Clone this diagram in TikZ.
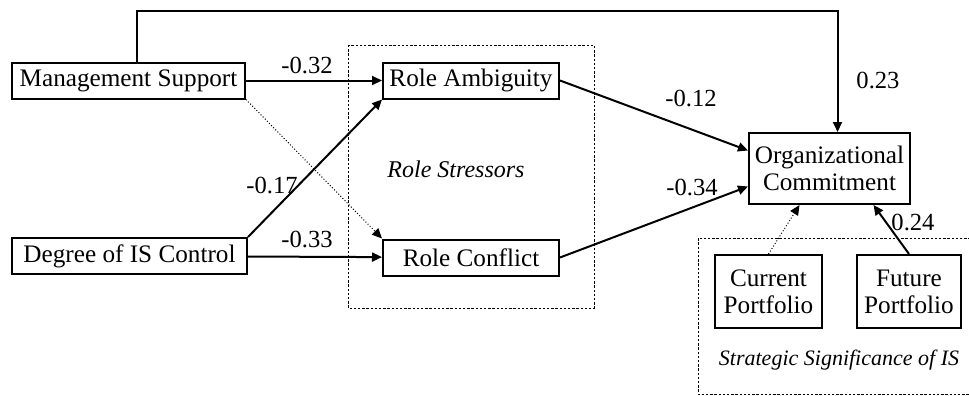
\documentclass[tikz,border=0pt]{standalone}
\usepackage{fontspec}
\setmainfont{Liberation Serif}
\usetikzlibrary{positioning,arrows.meta}

\begin{document}
\begin{tikzpicture}[x=0.5pt,y=-0.5pt,
	var/.style={draw, line width=1pt, inner sep=2pt, minimum height=18pt,
		align=center, font=\fontsize{12.6}{13.5}\selectfont},
	group/.style={draw, line width=0.5pt, dash pattern=on 1.2pt off 0.9pt},
	grouplabel/.style={font=\fontsize{11}{13}\selectfont\itshape},
	coef/.style={font=\fontsize{12.3}{13.5}\selectfont, inner sep=1pt},
	path/.style={-{Triangle[length=5pt,width=4.5pt]}, line width=1pt},
	weak/.style={-{Triangle[length=5pt,width=4.5pt]}, line width=0.5pt, densely dotted}
	]
	\useasboundingbox (0,0) rectangle (969,396);
	% groups
	\draw[group] (348,45) rectangle (594,308);
	\node[grouplabel, font=\fontsize{12}{13}\selectfont\itshape] (rslab) at (456,169) {Role Stressors};
	\draw[group] (975,238) -| (698,394) -- (975,394);
	\node[grouplabel] (sslab) at (839,360) {Strategic Significance of IS};
	% variables
	\node[var, minimum width=116.5pt] (ms) at (128.5,80.5) {Management Support};
	\node[var, minimum width=117.5pt] (dic) at (129.5,256) {Degree of IS Control};
	\node[var, minimum width=88pt] (ra) at (471,80.5) {Role Ambiguity};
	\node[var, minimum width=88pt, below=69.5pt of ra] (rc) {Role Conflict};
	\node[var, minimum width=80.5pt, minimum height=35.5pt] (oc) at (829.5,168.5) {Organizational\\Commitment};
	\node[var, minimum width=53.5pt, minimum height=36.5pt] (cp) at (768.5,291.5) {Current\\Portfolio};
	\node[var, minimum width=52pt, minimum height=36.5pt, right=16.5pt of cp] (fp) {Future\\Portfolio};
	% paths
	\coordinate (turn) at (837.5,11);
	\draw[path] ([xshift=4pt]ms.north) |- (turn) -- ([xshift=4pt]oc.north);
	\draw[path] (ms) -- (ra);
	\draw[weak] (ms.south east) -- (rc.north west);
	\draw[path] (dic.north east) -- (ra.south west);
	\draw[path] (dic) -- (rc);
	\draw[path] (ra.east) -- ([yshift=9pt]oc.west);
	\draw[path] (rc.east) -- ([yshift=-9pt]oc.west);
	\draw[weak] (cp.north) -- ([xshift=-15pt]oc.south);
	\draw[path] (fp.north) -- ([xshift=22pt]oc.south);
	% coefficients
	\node[coef] (c1) at (307,65) {-0.32};
	\node[coef] (c2) at (272,185) {-0.17};
	\node[coef] (c3) at (307,239) {-0.33};
	\node[coef] (c4) at (691,98) {-0.12};
	\node[coef] (c5) at (692,187) {-0.34};
	\node[coef] (c6) at (878,80) {0.23};
	\node[coef] (c7) at (913,222) {0.24};
\end{tikzpicture}
\end{document}
